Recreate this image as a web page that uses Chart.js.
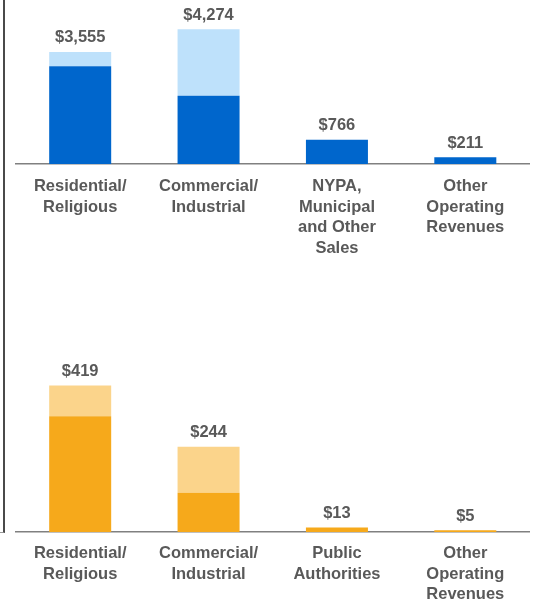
<!DOCTYPE html>
<html>
<head>
<meta charset="utf-8">
<script src="https://cdn.jsdelivr.net/npm/chart.js@4.4.1/dist/chart.umd.min.js"></script>
<style>
  body { margin: 0; background: #fff; width: 536px; height: 606px; position: relative; overflow: hidden; }
  .frame { position: absolute; left: -1px; top: -2px; width: 4px; height: 534px; border-right: 2px solid #4a4a4a; border-bottom: 1px solid #999; }
  #electric { position: absolute; left: 0; top: 0; }
  #gas { position: absolute; left: 0; top: 310px; }
</style>
</head>
<body>
<div class="frame"></div>
<canvas id="electric" width="536" height="300"></canvas>
<canvas id="gas" width="536" height="296"></canvas>
<script>
// electric revenues ($ millions)
const electricCategories = [
  ['Residential/', 'Religious'],
  ['Commercial/', 'Industrial'],
  ['NYPA,', 'Municipal', 'and Other', 'Sales'],
  ['Other', 'Operating', 'Revenues']
];
const electricBase = [3097, 2165, 766, 211];
const electricUpper = [458, 2109, 0, 0];
const electricTotals = ['$3,555', '$4,274', '$766', '$211'];

// gas revenues ($ millions)
const gasCategories = [
  ['Residential/', 'Religious'],
  ['Commercial/', 'Industrial'],
  ['Public', 'Authorities'],
  ['Other', 'Operating', 'Revenues']
];
const gasBase = [331, 112, 13, 5];
const gasUpper = [88, 132, 0, 0];
const gasTotals = ['$419', '$244', '$13', '$5'];

const textColor = '#595959';
const fontFamily = '"Liberation Sans", Arial, sans-serif';

// writes the total above each stacked bar
const totalLabels = {
  id: 'totalLabels',
  afterDatasetsDraw(chart, args, opts) {
    const ctx = chart.ctx;
    const base = chart.getDatasetMeta(0).data;
    const upper = chart.getDatasetMeta(1).data;
    ctx.save();
    ctx.fillStyle = textColor;
    ctx.font = 'bold 16.5px ' + fontFamily;
    ctx.textAlign = 'center';
    ctx.textBaseline = 'middle';
    opts.labels.forEach((txt, i) => {
      const y = Math.min(base[i].y, upper[i].y);
      ctx.fillText(txt, base[i].x, y - 14);
    });
    ctx.restore();
  }
};

function makeChart(id, cats, base, upper, totals, colors, yMax, axisHeight, pad) {
  return new Chart(document.getElementById(id), {
    type: 'bar',
    data: {
      labels: cats,
      datasets: [
        { data: base, backgroundColor: colors[0] },
        { data: upper, backgroundColor: colors[1] }
      ]
    },
    options: {
      responsive: false,
      animation: false,
      layout: { padding: { left: 16, right: 6.5, top: 0, bottom: 0 } },
      datasets: { bar: { categoryPercentage: 1, barPercentage: 0.483 } },
      plugins: {
        legend: { display: false },
        tooltip: { enabled: false },
        totalLabels: { labels: totals }
      },
      scales: {
        x: {
          stacked: true,
          z: 1,
          grid: { display: false, drawTicks: false },
          border: { display: true, color: '#808080', width: 1.5 },
          ticks: {
            padding: pad,
            color: textColor,
            maxRotation: 0,
            autoSkip: false,
            font: { family: fontFamily, weight: 'bold', size: 16.5, lineHeight: '20.5px' }
          },
          afterFit: s => { s.height = axisHeight; }
        },
        y: { stacked: true, display: false, min: 0, max: yMax }
      }
    },
    plugins: [totalLabels]
  });
}

makeChart('electric', electricCategories, electricBase, electricUpper, electricTotals,
  ['#0066CC', '#BEE1FB'], 5200, 136, 12.5);
makeChart('gas', gasCategories, gasBase, gasUpper, gasTotals,
  ['#F6A91B', '#FBD48B'], 635, 74, 11.5);
</script>
</body>
</html>
